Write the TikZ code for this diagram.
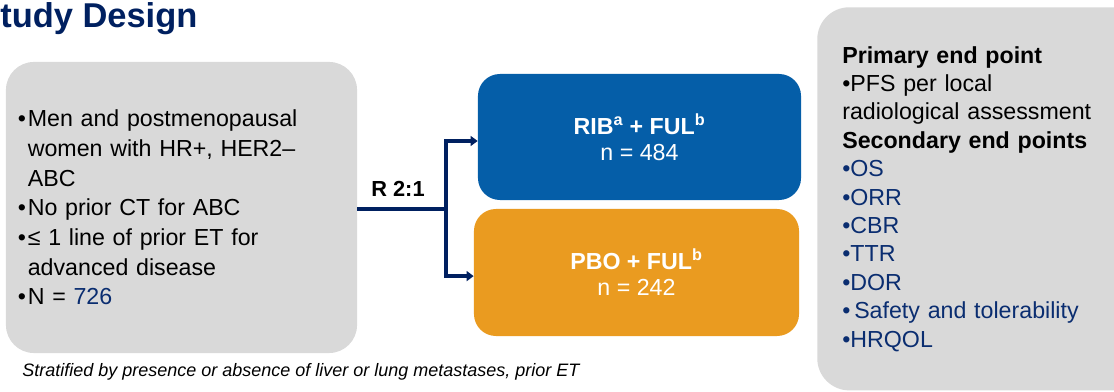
\documentclass[tikz,border=0pt]{standalone}
\usepackage{fontspec}
\setmainfont{Liberation Sans}
\usetikzlibrary{positioning}
\usetikzlibrary{calc}
\usetikzlibrary{arrows.meta}
\definecolor{navy}{RGB}{0,32,96}
\definecolor{navytext}{RGB}{10,45,112}
\definecolor{panelgrey}{RGB}{217,217,217}
\definecolor{armblue}{RGB}{5,94,168}
\definecolor{armorange}{RGB}{234,155,32}
\newcommand{\bul}{\makebox[7pt][l]{\textbullet}}
\newcommand{\hang}{\hspace*{7pt}}

\begin{document}
\begin{tikzpicture}[x=0.025cm, y=-0.025cm,
  panel/.style={fill=panelgrey, rounded corners=0.7cm, inner sep=0pt, align=left},
  arm/.style={rounded corners=0.55cm, text=white, align=center,
              font=\fontsize{16.5}{18.5}\selectfont},
  link/.style={navy, line width=2.85pt}]

\useasboundingbox (0,0) rectangle (1114,392);

%---------------------------------------
% Title and footnote
%---------------------------------------
\node (title) [anchor=base west, inner sep=0pt, text=navy,
               font=\bfseries\fontsize{24.5}{28}\selectfont] at (0,28) {tudy Design};

\node (strat) [anchor=base west, inner sep=0pt,
               font=\itshape\fontsize{12.8}{15}\selectfont] at (22,377)
  {Stratified by presence or absence of liver or lung metastases, prior ET};

%---------------------------------------
% Eligibility panel
%---------------------------------------
\node (elig) [panel, minimum width=8.775cm, minimum height=7.275cm, text width=8.175cm,
              font=\fontsize{16.5}{21.1}\selectfont] at (181.5,207.5)
  {\bul Men and postmenopausal\\
   \hang women with HR+, HER2–\\
   \hang ABC\\
   \bul No prior CT for ABC\\
   \bul ≤ 1 line of prior ET for\\
   \hang advanced disease\\
   \bul N = \textcolor{navytext}{726}\\[3pt]};

%---------------------------------------
% Treatment arms
%---------------------------------------
\node (rib) [arm, fill=armblue, minimum width=8.075cm, minimum height=3.15cm] at (639.5,137)
  {\textbf{RIB\textsuperscript{a} + FUL\textsuperscript{b}}\\ n = 484};
\node (pbo) [arm, fill=armorange, minimum width=8.125cm, minimum height=3.175cm] at (636.5,272.5)
  {\textbf{PBO + FUL\textsuperscript{b}}\\ n = 242};

% Randomisation
\coordinate (split) at (446,209);
\draw[link] (elig.east |- split) -- (split);
\draw[link, -{Triangle[length=5pt,width=7pt]}] (split) |- ([yshift=-0.1cm]rib.west);
\draw[link, -{Triangle[length=5pt,width=7pt]}] (split) |- ([yshift=-0.09cm]pbo.west);
\node (ratio) [anchor=base, inner sep=0pt,
               font=\bfseries\fontsize{15.5}{18}\selectfont] at (398,197) {R 2:1};

%---------------------------------------
% End points panel
%---------------------------------------
\node (endpts) [panel, rounded corners=0.8cm, anchor=north west, minimum width=8.25cm,
                minimum height=9.575cm, text width=7cm, inner xsep=0.625cm,
                font=\fontsize{16.5}{20.2}\selectfont] at (817,7)
  {\textbf{Primary end point}\\
   •PFS per local\\
   radiological assessment\\
   \textbf{Secondary end points}\\
   \textcolor{navytext}{•OS}\\
   \textcolor{navytext}{•ORR}\\
   \textcolor{navytext}{•CBR}\\
   \textcolor{navytext}{•TTR}\\
   \textcolor{navytext}{•DOR}\\
   \textcolor{navytext}{•\,Safety and tolerability}\\
   \textcolor{navytext}{•HRQOL}};

\end{tikzpicture}
\end{document}
